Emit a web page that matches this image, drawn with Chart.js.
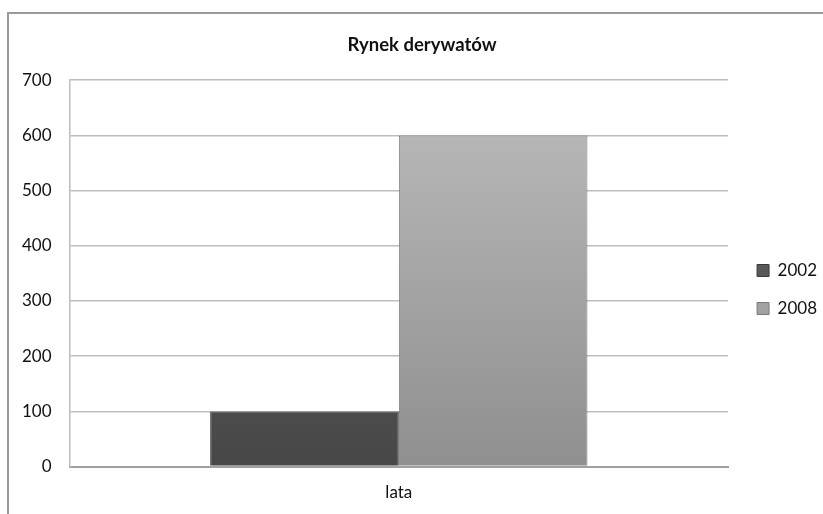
<!DOCTYPE html>
<html>
<head>
<meta charset="utf-8">
<script src="https://cdn.jsdelivr.net/npm/chart.js@4"></script>
<style>
  html, body { margin: 0; padding: 0; background: #fff; }
  #wrap { position: relative; width: 823px; height: 514px; overflow: hidden; }
  #frame { position: absolute; left: 7px; top: 12px; width: 900px; height: 600px;
           border-left: 2px solid #9a9a9a; border-top: 2px solid #9a9a9a; }
  canvas { position: absolute; left: 0; top: 0; }
</style>
</head>
<body>
<div id="wrap">
  <div id="frame"></div>
  <canvas id="chart" width="823" height="514"></canvas>
</div>
<script>
const categories = ['lata'];
const seriesNames = ['2002', '2008'];
const values2002 = [100];
const values2008 = [600];
const yTicks = [0, 100, 200, 300, 400, 500, 600, 700];

// gradient pionowy dla słupka
function barGradient(top, bottom) {
    return function(c) {
        const area = c.chart.chartArea;
        if (!area) return bottom;
        const g = c.chart.ctx.createLinearGradient(0, area.top, 0, area.bottom);
        g.addColorStop(0, top);
        g.addColorStop(1, bottom);
        return g;
    };
}

// przesuwa legendę i centruje tytuł nad całym obiektem wykresu (jak w Excelu)
const layoutFix = {
    id: 'layoutFix',
    afterLayout(chart) {
        const lg = chart.legend;
        lg.left += 8; lg.right += 8;
        lg.top += 25; lg.bottom += 25;
        const t = chart.titleBlock;
        t.left = 9; t.right = 835;
    }
};

const ctx = document.getElementById('chart').getContext('2d');
const myChart = new Chart(ctx, {
    type: 'bar',
    data: {
        labels: categories,
        datasets: [{
            label: seriesNames[0],
            data: values2002,
            backgroundColor: barGradient('#6a6a6a', '#474747'),
            borderColor: '#3a3a3a',
            borderWidth: 1
        }, {
            label: seriesNames[1],
            data: values2008,
            backgroundColor: barGradient('#bcbcbc', '#8f8f8f'),
            borderColor: '#7a7a7a',
            borderWidth: 1
        }]
    },
    options: {
        responsive: false,
        animation: false,
        layout: { padding: { left: 4, right: 4, top: 18, bottom: 3 } },
        plugins: {
            title: {
                display: true,
                text: 'Rynek derywatów',
                color: '#111',
                font: { family: 'Lato', size: 18.5, weight: 'bold' },
                padding: { top: 16, bottom: 24 }
            },
            legend: {
                position: 'right',
                labels: {
                    color: '#111',
                    font: { family: 'Lato', size: 17 },
                    boxWidth: 12,
                    boxHeight: 12,
                    padding: 21
                }
            },
            tooltip: { enabled: false }
        },
        datasets: { bar: { categoryPercentage: 0.573, barPercentage: 1 } },
        scales: {
            x: {
                grid: { display: false },
                border: { color: '#a0a0a0', width: 2 },
                ticks: { color: '#111', font: { family: 'Lato', size: 17 }, padding: 8 }
            },
            y: {
                min: 0,
                max: 700,
                afterBuildTicks: axis => { axis.ticks = yTicks.map(v => ({ value: v })); },
                grid: { color: '#bdbdbd', lineWidth: 1.5, drawTicks: false },
                border: { color: '#bdbdbd', width: 1.5 },
                ticks: { color: '#111', font: { family: 'Lato', size: 17 }, padding: 18 }
            }
        }
    },
    plugins: [layoutFix]
});
</script>
</body>
</html>
